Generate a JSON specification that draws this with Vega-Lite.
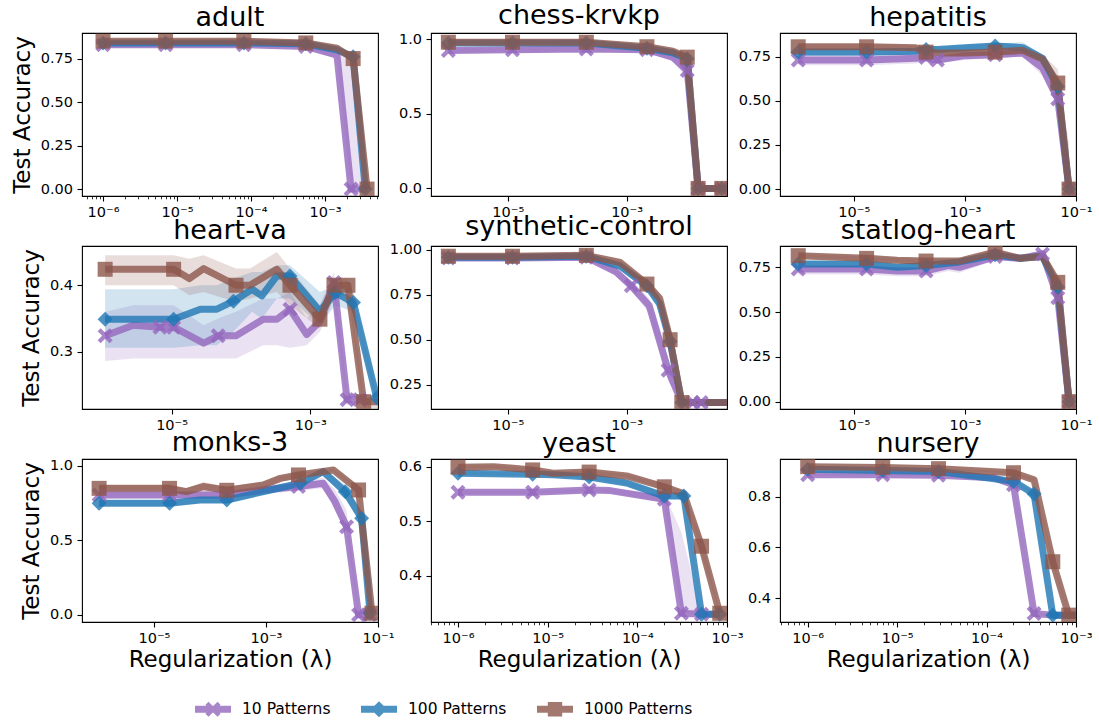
{
"$schema":"https://vega.github.io/schema/vega-lite/v6.json",
"autosize":{"type":"none"},
"padding":{"left":82,"top":33,"right":1017,"bottom":690},
"background":"white",
"config":{
 "view":{"stroke":"black","strokeWidth":1.1},
 "font":"DejaVu Sans",
 "axis":{"domain":false,"grid":false,"ticks":true,"tickColor":"black","tickWidth":1.1,"tickSize":5,"labelColor":"black","labelFont":"DejaVu Sans","labelFontSize":14.5,"labelPadding":4.5,"titleFont":"DejaVu Sans","titleFontSize":23,"titleFontWeight":"normal","titleColor":"black","labelFlush":false,"labelOverlap":false,"labelBound":false},
 "axisY":{"titlePadding":6},
 "axisX":{"titlePadding":3},
 "title":{"font":"DejaVu Sans","fontSize":27,"fontWeight":"normal","color":"black","frame":"group","baseline":"alphabetic","offset":1,"anchor":"middle"}
},
"datasets":{"d":[
{"d":"a","s":"10","x":1e-6,"y":0.83,"lo":0.82,"hi":0.84,"m":1},
{"d":"a","s":"10","x":7e-6,"y":0.83,"lo":0.82,"hi":0.84,"m":1},
{"d":"a","s":"10","x":8e-5,"y":0.83,"lo":0.82,"hi":0.84,"m":1},
{"d":"a","s":"10","x":5.5e-4,"y":0.82,"lo":0.81,"hi":0.83,"m":1},
{"d":"a","s":"10","x":1.45e-3,"y":0.77,"lo":0.75,"hi":0.79},
{"d":"a","s":"10","x":2.25e-3,"y":0,"lo":0,"hi":0.74,"m":1},
{"d":"a","s":"10","x":3.7e-3,"y":0,"lo":0,"hi":0.01},
{"d":"a","s":"100","x":1e-6,"y":0.84,"lo":0.835,"hi":0.845,"m":1},
{"d":"a","s":"100","x":7e-6,"y":0.84,"lo":0.835,"hi":0.845,"m":1},
{"d":"a","s":"100","x":8e-5,"y":0.84,"lo":0.835,"hi":0.845,"m":1},
{"d":"a","s":"100","x":5.5e-4,"y":0.835,"lo":0.83,"hi":0.84,"m":1},
{"d":"a","s":"100","x":1.45e-3,"y":0.8,"lo":0.79,"hi":0.81},
{"d":"a","s":"100","x":2.4e-3,"y":0.76,"lo":0.74,"hi":0.78,"m":1},
{"d":"a","s":"100","x":3.5e-3,"y":0,"lo":0,"hi":0.01,"m":1},
{"d":"a","s":"1000","x":1e-6,"y":0.85,"lo":0.845,"hi":0.855,"m":1},
{"d":"a","s":"1000","x":7e-6,"y":0.85,"lo":0.845,"hi":0.855,"m":1},
{"d":"a","s":"1000","x":8e-5,"y":0.85,"lo":0.845,"hi":0.855,"m":1},
{"d":"a","s":"1000","x":5.5e-4,"y":0.84,"lo":0.835,"hi":0.845,"m":1},
{"d":"a","s":"1000","x":1.45e-3,"y":0.81,"lo":0.8,"hi":0.82},
{"d":"a","s":"1000","x":2.4e-3,"y":0.75,"lo":0.74,"hi":0.76,"m":1},
{"d":"a","s":"1000","x":3.7e-3,"y":0,"lo":0,"hi":0.01,"m":1},

{"d":"c","s":"10","x":1e-6,"y":0.925,"lo":0.91,"hi":0.94,"m":1},
{"d":"c","s":"10","x":1.2e-5,"y":0.93,"lo":0.915,"hi":0.945,"m":1},
{"d":"c","s":"10","x":2.1e-4,"y":0.935,"lo":0.92,"hi":0.95,"m":1},
{"d":"c","s":"10","x":2.2e-3,"y":0.93,"lo":0.915,"hi":0.945,"m":1},
{"d":"c","s":"10","x":6e-3,"y":0.88,"lo":0.85,"hi":0.9},
{"d":"c","s":"10","x":1.05e-2,"y":0.79,"lo":0.74,"hi":0.84,"m":1},
{"d":"c","s":"10","x":1.6e-2,"y":0,"lo":0,"hi":0,"m":1},
{"d":"c","s":"10","x":0.04,"y":0,"lo":0,"hi":0,"m":1},
{"d":"c","s":"100","x":1e-6,"y":0.975,"lo":0.965,"hi":0.985,"m":1},
{"d":"c","s":"100","x":1.2e-5,"y":0.975,"lo":0.965,"hi":0.985,"m":1},
{"d":"c","s":"100","x":2.1e-4,"y":0.975,"lo":0.965,"hi":0.985,"m":1},
{"d":"c","s":"100","x":2.2e-3,"y":0.94,"lo":0.93,"hi":0.95,"m":1},
{"d":"c","s":"100","x":6e-3,"y":0.91,"lo":0.9,"hi":0.92},
{"d":"c","s":"100","x":1.05e-2,"y":0.87,"lo":0.85,"hi":0.89,"m":1},
{"d":"c","s":"100","x":1.6e-2,"y":0,"lo":0,"hi":0,"m":1},
{"d":"c","s":"100","x":0.04,"y":0,"lo":0,"hi":0,"m":1},
{"d":"c","s":"1000","x":1e-6,"y":0.98,"lo":0.975,"hi":0.985,"m":1},
{"d":"c","s":"1000","x":1.2e-5,"y":0.98,"lo":0.975,"hi":0.985,"m":1},
{"d":"c","s":"1000","x":2.1e-4,"y":0.98,"lo":0.975,"hi":0.985,"m":1},
{"d":"c","s":"1000","x":2.2e-3,"y":0.95,"lo":0.94,"hi":0.96,"m":1},
{"d":"c","s":"1000","x":6e-3,"y":0.92,"lo":0.91,"hi":0.93},
{"d":"c","s":"1000","x":1.05e-2,"y":0.88,"lo":0.87,"hi":0.89,"m":1},
{"d":"c","s":"1000","x":1.6e-2,"y":0,"lo":0,"hi":0,"m":1},
{"d":"c","s":"1000","x":0.04,"y":0,"lo":0,"hi":0,"m":1},

{"d":"h","s":"10","x":1e-6,"y":0.73,"lo":0.7,"hi":0.76,"m":1},
{"d":"h","s":"10","x":1.7e-5,"y":0.73,"lo":0.7,"hi":0.76,"m":1},
{"d":"h","s":"10","x":1.3e-4,"y":0.74,"lo":0.71,"hi":0.77},
{"d":"h","s":"10","x":2e-4,"y":0.745,"lo":0.72,"hi":0.77,"m":1},
{"d":"h","s":"10","x":3.2e-4,"y":0.73,"lo":0.71,"hi":0.76,"m":1},
{"d":"h","s":"10","x":1e-3,"y":0.755,"lo":0.73,"hi":0.78},
{"d":"h","s":"10","x":3.5e-3,"y":0.76,"lo":0.74,"hi":0.78,"m":1},
{"d":"h","s":"10","x":1.1e-2,"y":0.77,"lo":0.75,"hi":0.79},
{"d":"h","s":"10","x":2.5e-2,"y":0.685,"lo":0.64,"hi":0.72},
{"d":"h","s":"10","x":4.7e-2,"y":0.51,"lo":0.46,"hi":0.57,"m":1},
{"d":"h","s":"10","x":7.5e-2,"y":0,"lo":0,"hi":0.03,"m":1},
{"d":"h","s":"100","x":1e-6,"y":0.775,"lo":0.755,"hi":0.795,"m":1},
{"d":"h","s":"100","x":1.7e-5,"y":0.775,"lo":0.755,"hi":0.795,"m":1},
{"d":"h","s":"100","x":1.3e-4,"y":0.78,"lo":0.76,"hi":0.8},
{"d":"h","s":"100","x":2e-4,"y":0.79,"lo":0.77,"hi":0.81,"m":1},
{"d":"h","s":"100","x":3.2e-4,"y":0.79,"lo":0.775,"hi":0.805},
{"d":"h","s":"100","x":1e-3,"y":0.8,"lo":0.785,"hi":0.815},
{"d":"h","s":"100","x":3.5e-3,"y":0.81,"lo":0.79,"hi":0.825,"m":1},
{"d":"h","s":"100","x":1.1e-2,"y":0.8,"lo":0.78,"hi":0.83},
{"d":"h","s":"100","x":2.5e-2,"y":0.74,"lo":0.72,"hi":0.76},
{"d":"h","s":"100","x":4.7e-2,"y":0.58,"lo":0.54,"hi":0.62,"m":1},
{"d":"h","s":"100","x":7.5e-2,"y":0,"lo":0,"hi":0.05,"m":1},
{"d":"h","s":"1000","x":1e-6,"y":0.805,"lo":0.79,"hi":0.82,"m":1},
{"d":"h","s":"1000","x":1.7e-5,"y":0.805,"lo":0.79,"hi":0.82,"m":1},
{"d":"h","s":"1000","x":1.3e-4,"y":0.8,"lo":0.785,"hi":0.815},
{"d":"h","s":"1000","x":2e-4,"y":0.775,"lo":0.76,"hi":0.79,"m":1},
{"d":"h","s":"1000","x":3.2e-4,"y":0.77,"lo":0.755,"hi":0.785},
{"d":"h","s":"1000","x":1e-3,"y":0.77,"lo":0.755,"hi":0.785},
{"d":"h","s":"1000","x":3.5e-3,"y":0.775,"lo":0.76,"hi":0.79,"m":1},
{"d":"h","s":"1000","x":1.1e-2,"y":0.785,"lo":0.77,"hi":0.8},
{"d":"h","s":"1000","x":2.5e-2,"y":0.735,"lo":0.71,"hi":0.76},
{"d":"h","s":"1000","x":4.7e-2,"y":0.6,"lo":0.52,"hi":0.68,"m":1},
{"d":"h","s":"1000","x":7.5e-2,"y":0,"lo":0,"hi":0.25,"m":1},

{"d":"v","s":"10","x":1.1e-6,"y":0.324,"lo":0.286,"hi":0.36,"m":1},
{"d":"v","s":"10","x":2.8e-6,"y":0.34,"lo":0.29,"hi":0.37},
{"d":"v","s":"10","x":6.8e-6,"y":0.337,"lo":0.29,"hi":0.37,"m":1},
{"d":"v","s":"10","x":1.07e-5,"y":0.337,"lo":0.29,"hi":0.37,"m":1},
{"d":"v","s":"10","x":2.9e-5,"y":0.313,"lo":0.29,"hi":0.34},
{"d":"v","s":"10","x":4.7e-5,"y":0.324,"lo":0.29,"hi":0.35,"m":1},
{"d":"v","s":"10","x":8.5e-5,"y":0.324,"lo":0.29,"hi":0.36},
{"d":"v","s":"10","x":2.1e-4,"y":0.349,"lo":0.31,"hi":0.38},
{"d":"v","s":"10","x":3.3e-4,"y":0.349,"lo":0.31,"hi":0.38},
{"d":"v","s":"10","x":5.1e-4,"y":0.364,"lo":0.306,"hi":0.39,"m":1},
{"d":"v","s":"10","x":8.9e-4,"y":0.326,"lo":0.31,"hi":0.35},
{"d":"v","s":"10","x":1.38e-3,"y":0.346,"lo":0.33,"hi":0.37},
{"d":"v","s":"10","x":2.2e-3,"y":0.404,"lo":0.38,"hi":0.42,"m":1},
{"d":"v","s":"10","x":3.4e-3,"y":0.228,"lo":0.22,"hi":0.24,"m":1},
{"d":"v","s":"10","x":5.2e-3,"y":0.228,"lo":0.22,"hi":0.235,"m":1},
{"d":"v","s":"100","x":1.1e-6,"y":0.349,"lo":0.306,"hi":0.394,"m":1},
{"d":"v","s":"100","x":1.07e-5,"y":0.349,"lo":0.306,"hi":0.394,"m":1},
{"d":"v","s":"100","x":2.6e-5,"y":0.364,"lo":0.31,"hi":0.4},
{"d":"v","s":"100","x":4.5e-5,"y":0.364,"lo":0.31,"hi":0.4},
{"d":"v","s":"100","x":7.8e-5,"y":0.376,"lo":0.33,"hi":0.41,"m":1},
{"d":"v","s":"100","x":1.45e-4,"y":0.394,"lo":0.36,"hi":0.42},
{"d":"v","s":"100","x":2e-4,"y":0.384,"lo":0.35,"hi":0.42},
{"d":"v","s":"100","x":3.3e-4,"y":0.414,"lo":0.38,"hi":0.43},
{"d":"v","s":"100","x":5.1e-4,"y":0.414,"lo":0.38,"hi":0.43,"m":1},
{"d":"v","s":"100","x":1.38e-3,"y":0.361,"lo":0.34,"hi":0.39},
{"d":"v","s":"100","x":2.3e-3,"y":0.389,"lo":0.37,"hi":0.4,"m":1},
{"d":"v","s":"100","x":4.2e-3,"y":0.374,"lo":0.36,"hi":0.39,"m":1},
{"d":"v","s":"100","x":9.1e-3,"y":0.231,"lo":0.22,"hi":0.24,"m":1},
{"d":"v","s":"1000","x":1.1e-6,"y":0.424,"lo":0.4,"hi":0.445,"m":1},
{"d":"v","s":"1000","x":1.07e-5,"y":0.424,"lo":0.4,"hi":0.445,"m":1},
{"d":"v","s":"1000","x":1.8e-5,"y":0.41,"lo":0.385,"hi":0.44},
{"d":"v","s":"1000","x":2.9e-5,"y":0.425,"lo":0.39,"hi":0.445},
{"d":"v","s":"1000","x":8.5e-5,"y":0.4,"lo":0.375,"hi":0.425,"m":1},
{"d":"v","s":"1000","x":1.35e-4,"y":0.4,"lo":0.38,"hi":0.425},
{"d":"v","s":"1000","x":3.3e-4,"y":0.424,"lo":0.39,"hi":0.45},
{"d":"v","s":"1000","x":5.1e-4,"y":0.4,"lo":0.37,"hi":0.425,"m":1},
{"d":"v","s":"1000","x":1.38e-3,"y":0.349,"lo":0.335,"hi":0.37,"m":1},
{"d":"v","s":"1000","x":2.2e-3,"y":0.4,"lo":0.38,"hi":0.41,"m":1},
{"d":"v","s":"1000","x":3.5e-3,"y":0.4,"lo":0.385,"hi":0.41,"m":1},
{"d":"v","s":"1000","x":5.9e-3,"y":0.225,"lo":0.215,"hi":0.235,"m":1},
{"d":"v","s":"1000","x":9.5e-3,"y":0.225,"lo":0.215,"hi":0.235},

{"d":"s","s":"10","x":1e-6,"y":0.955,"lo":0.945,"hi":0.965,"m":1},
{"d":"s","s":"10","x":1.2e-5,"y":0.955,"lo":0.945,"hi":0.965,"m":1},
{"d":"s","s":"10","x":2.1e-4,"y":0.96,"lo":0.95,"hi":0.97,"m":1},
{"d":"s","s":"10","x":6.5e-4,"y":0.88,"lo":0.86,"hi":0.9},
{"d":"s","s":"10","x":1.2e-3,"y":0.8,"lo":0.77,"hi":0.83,"m":1},
{"d":"s","s":"10","x":2.4e-3,"y":0.69,"lo":0.65,"hi":0.73},
{"d":"s","s":"10","x":5e-3,"y":0.33,"lo":0.27,"hi":0.4,"m":1},
{"d":"s","s":"10","x":8.5e-3,"y":0.15,"lo":0.14,"hi":0.16},
{"d":"s","s":"10","x":1.3e-2,"y":0.15,"lo":0.14,"hi":0.16,"m":1},
{"d":"s","s":"10","x":1.8e-2,"y":0.15,"lo":0.14,"hi":0.16,"m":1},
{"d":"s","s":"10","x":0.049,"y":0.15,"lo":0.14,"hi":0.16},
{"d":"s","s":"100","x":1e-6,"y":0.96,"lo":0.955,"hi":0.965,"m":1},
{"d":"s","s":"100","x":1.2e-5,"y":0.96,"lo":0.955,"hi":0.965,"m":1},
{"d":"s","s":"100","x":2.1e-4,"y":0.965,"lo":0.955,"hi":0.975,"m":1},
{"d":"s","s":"100","x":7.8e-4,"y":0.91,"lo":0.89,"hi":0.93},
{"d":"s","s":"100","x":2.2e-3,"y":0.8,"lo":0.77,"hi":0.83,"m":1},
{"d":"s","s":"100","x":3.6e-3,"y":0.7,"lo":0.66,"hi":0.74},
{"d":"s","s":"100","x":5.4e-3,"y":0.49,"lo":0.45,"hi":0.53,"m":1},
{"d":"s","s":"100","x":8.5e-3,"y":0.15,"lo":0.14,"hi":0.16,"m":1},
{"d":"s","s":"100","x":0.049,"y":0.15,"lo":0.14,"hi":0.16},
{"d":"s","s":"1000","x":1e-6,"y":0.965,"lo":0.96,"hi":0.97,"m":1},
{"d":"s","s":"1000","x":1.2e-5,"y":0.965,"lo":0.96,"hi":0.97,"m":1},
{"d":"s","s":"1000","x":2.1e-4,"y":0.97,"lo":0.96,"hi":0.98,"m":1},
{"d":"s","s":"1000","x":7.8e-4,"y":0.93,"lo":0.92,"hi":0.94},
{"d":"s","s":"1000","x":2.2e-3,"y":0.81,"lo":0.79,"hi":0.83,"m":1},
{"d":"s","s":"1000","x":3.6e-3,"y":0.73,"lo":0.71,"hi":0.75},
{"d":"s","s":"1000","x":5.4e-3,"y":0.5,"lo":0.47,"hi":0.53,"m":1},
{"d":"s","s":"1000","x":8.5e-3,"y":0.15,"lo":0.14,"hi":0.16,"m":1},
{"d":"s","s":"1000","x":0.049,"y":0.15,"lo":0.14,"hi":0.16},

{"d":"t","s":"10","x":1e-6,"y":0.74,"lo":0.71,"hi":0.76,"m":1},
{"d":"t","s":"10","x":1.7e-5,"y":0.74,"lo":0.71,"hi":0.76,"m":1},
{"d":"t","s":"10","x":6e-5,"y":0.73,"lo":0.7,"hi":0.75},
{"d":"t","s":"10","x":2e-4,"y":0.73,"lo":0.7,"hi":0.755,"m":1},
{"d":"t","s":"10","x":5e-4,"y":0.76,"lo":0.73,"hi":0.78},
{"d":"t","s":"10","x":8e-4,"y":0.75,"lo":0.72,"hi":0.77},
{"d":"t","s":"10","x":3.5e-3,"y":0.81,"lo":0.79,"hi":0.83,"m":1},
{"d":"t","s":"10","x":1e-2,"y":0.8,"lo":0.79,"hi":0.81},
{"d":"t","s":"10","x":2.5e-2,"y":0.825,"lo":0.81,"hi":0.84,"m":1},
{"d":"t","s":"10","x":4.7e-2,"y":0.58,"lo":0.53,"hi":0.63,"m":1},
{"d":"t","s":"10","x":7.5e-2,"y":0,"lo":0,"hi":0.01,"m":1},
{"d":"t","s":"100","x":1e-6,"y":0.768,"lo":0.75,"hi":0.785,"m":1},
{"d":"t","s":"100","x":1.7e-5,"y":0.768,"lo":0.75,"hi":0.785,"m":1},
{"d":"t","s":"100","x":6e-5,"y":0.75,"lo":0.735,"hi":0.77},
{"d":"t","s":"100","x":2e-4,"y":0.76,"lo":0.745,"hi":0.775,"m":1},
{"d":"t","s":"100","x":8e-4,"y":0.78,"lo":0.765,"hi":0.795},
{"d":"t","s":"100","x":3.5e-3,"y":0.82,"lo":0.805,"hi":0.835,"m":1},
{"d":"t","s":"100","x":1e-2,"y":0.8,"lo":0.79,"hi":0.81},
{"d":"t","s":"100","x":2.5e-2,"y":0.81,"lo":0.8,"hi":0.82},
{"d":"t","s":"100","x":4.7e-2,"y":0.64,"lo":0.6,"hi":0.68,"m":1},
{"d":"t","s":"100","x":7.5e-2,"y":0,"lo":0,"hi":0.01,"m":1},
{"d":"t","s":"1000","x":1e-6,"y":0.815,"lo":0.805,"hi":0.825,"m":1},
{"d":"t","s":"1000","x":1.7e-5,"y":0.8,"lo":0.79,"hi":0.81,"m":1},
{"d":"t","s":"1000","x":6e-5,"y":0.79,"lo":0.78,"hi":0.8},
{"d":"t","s":"1000","x":2e-4,"y":0.785,"lo":0.775,"hi":0.795,"m":1},
{"d":"t","s":"1000","x":8e-4,"y":0.785,"lo":0.775,"hi":0.795},
{"d":"t","s":"1000","x":3.5e-3,"y":0.835,"lo":0.82,"hi":0.85,"m":1},
{"d":"t","s":"1000","x":1e-2,"y":0.8,"lo":0.79,"hi":0.81},
{"d":"t","s":"1000","x":2.5e-2,"y":0.81,"lo":0.8,"hi":0.82},
{"d":"t","s":"1000","x":4.7e-2,"y":0.666,"lo":0.64,"hi":0.69,"m":1},
{"d":"t","s":"1000","x":7.5e-2,"y":0,"lo":0,"hi":0.01,"m":1},

{"d":"m","s":"10","x":1.05e-6,"y":0.804,"lo":0.78,"hi":0.83,"m":1},
{"d":"m","s":"10","x":1.9e-5,"y":0.804,"lo":0.78,"hi":0.83,"m":1},
{"d":"m","s":"10","x":2e-4,"y":0.804,"lo":0.78,"hi":0.83,"m":1},
{"d":"m","s":"10","x":1e-3,"y":0.84,"lo":0.81,"hi":0.87},
{"d":"m","s":"10","x":1.8e-3,"y":0.848,"lo":0.82,"hi":0.88},
{"d":"m","s":"10","x":3.8e-3,"y":0.86,"lo":0.83,"hi":0.89,"m":1},
{"d":"m","s":"10","x":1.05e-2,"y":0.882,"lo":0.85,"hi":0.92},
{"d":"m","s":"10","x":1.7e-2,"y":0.76,"lo":0.7,"hi":0.84},
{"d":"m","s":"10","x":2.75e-2,"y":0.59,"lo":0.55,"hi":0.7,"m":1},
{"d":"m","s":"10","x":4.5e-2,"y":0,"lo":0,"hi":0.02,"m":1},
{"d":"m","s":"10","x":7.1e-2,"y":0,"lo":0,"hi":0.01,"m":1},
{"d":"m","s":"100","x":1.05e-6,"y":0.748,"lo":0.73,"hi":0.77,"m":1},
{"d":"m","s":"100","x":1.9e-5,"y":0.748,"lo":0.73,"hi":0.77,"m":1},
{"d":"m","s":"100","x":6.6e-5,"y":0.77,"lo":0.75,"hi":0.79},
{"d":"m","s":"100","x":2e-4,"y":0.77,"lo":0.75,"hi":0.79,"m":1},
{"d":"m","s":"100","x":1e-3,"y":0.83,"lo":0.81,"hi":0.85},
{"d":"m","s":"100","x":4.1e-3,"y":0.882,"lo":0.86,"hi":0.9,"m":1},
{"d":"m","s":"100","x":1.05e-2,"y":0.96,"lo":0.94,"hi":0.98},
{"d":"m","s":"100","x":2.6e-2,"y":0.826,"lo":0.78,"hi":0.87,"m":1},
{"d":"m","s":"100","x":5.1e-2,"y":0.648,"lo":0.6,"hi":0.7,"m":1},
{"d":"m","s":"100","x":7.2e-2,"y":0.01,"lo":0,"hi":0.02,"m":1},
{"d":"m","s":"1000","x":1.05e-6,"y":0.848,"lo":0.82,"hi":0.87,"m":1},
{"d":"m","s":"1000","x":1.9e-5,"y":0.848,"lo":0.82,"hi":0.87,"m":1},
{"d":"m","s":"1000","x":3.8e-5,"y":0.826,"lo":0.8,"hi":0.85},
{"d":"m","s":"1000","x":7.6e-5,"y":0.86,"lo":0.83,"hi":0.89},
{"d":"m","s":"1000","x":2e-4,"y":0.835,"lo":0.81,"hi":0.86,"m":1},
{"d":"m","s":"1000","x":8.9e-4,"y":0.87,"lo":0.85,"hi":0.89},
{"d":"m","s":"1000","x":1.8e-3,"y":0.915,"lo":0.89,"hi":0.93},
{"d":"m","s":"1000","x":3.8e-3,"y":0.938,"lo":0.92,"hi":0.95,"m":1},
{"d":"m","s":"1000","x":1.6e-2,"y":0.971,"lo":0.96,"hi":0.98},
{"d":"m","s":"1000","x":4.5e-2,"y":0.837,"lo":0.82,"hi":0.86,"m":1},
{"d":"m","s":"1000","x":7.8e-2,"y":0.01,"lo":0,"hi":0.02,"m":1},

{"d":"y","s":"10","x":1e-6,"y":0.553,"lo":0.55,"hi":0.556,"m":1},
{"d":"y","s":"10","x":6.8e-6,"y":0.553,"lo":0.55,"hi":0.556,"m":1},
{"d":"y","s":"10","x":2.9e-5,"y":0.557,"lo":0.554,"hi":0.56,"m":1},
{"d":"y","s":"10","x":5e-5,"y":0.556,"lo":0.552,"hi":0.56},
{"d":"y","s":"10","x":2e-4,"y":0.54,"lo":0.535,"hi":0.55,"m":1},
{"d":"y","s":"10","x":3.1e-4,"y":0.331,"lo":0.33,"hi":0.48,"m":1},
{"d":"y","s":"10","x":5.2e-4,"y":0.329,"lo":0.328,"hi":0.33,"m":1},
{"d":"y","s":"10","x":8.3e-4,"y":0.329,"lo":0.328,"hi":0.33},
{"d":"y","s":"100","x":1e-6,"y":0.588,"lo":0.585,"hi":0.591,"m":1},
{"d":"y","s":"100","x":6.8e-6,"y":0.586,"lo":0.583,"hi":0.589,"m":1},
{"d":"y","s":"100","x":1.15e-5,"y":0.585,"lo":0.582,"hi":0.588},
{"d":"y","s":"100","x":2.9e-5,"y":0.581,"lo":0.578,"hi":0.584,"m":1},
{"d":"y","s":"100","x":7.6e-5,"y":0.57,"lo":0.566,"hi":0.574},
{"d":"y","s":"100","x":2e-4,"y":0.546,"lo":0.54,"hi":0.552,"m":1},
{"d":"y","s":"100","x":3.3e-4,"y":0.546,"lo":0.54,"hi":0.552,"m":1},
{"d":"y","s":"100","x":5.2e-4,"y":0.329,"lo":0.328,"hi":0.33,"m":1},
{"d":"y","s":"100","x":8.3e-4,"y":0.329,"lo":0.328,"hi":0.33,"m":1},
{"d":"y","s":"1000","x":1e-6,"y":0.599,"lo":0.596,"hi":0.602,"m":1},
{"d":"y","s":"1000","x":2.5e-6,"y":0.6,"lo":0.597,"hi":0.603},
{"d":"y","s":"1000","x":6.8e-6,"y":0.594,"lo":0.591,"hi":0.597,"m":1},
{"d":"y","s":"1000","x":1.15e-5,"y":0.588,"lo":0.585,"hi":0.591},
{"d":"y","s":"1000","x":2.9e-5,"y":0.59,"lo":0.587,"hi":0.593,"m":1},
{"d":"y","s":"1000","x":7.6e-5,"y":0.583,"lo":0.58,"hi":0.586},
{"d":"y","s":"1000","x":2e-4,"y":0.563,"lo":0.558,"hi":0.568,"m":1},
{"d":"y","s":"1000","x":3.3e-4,"y":0.55,"lo":0.545,"hi":0.555},
{"d":"y","s":"1000","x":5.2e-4,"y":0.454,"lo":0.44,"hi":0.47,"m":1},
{"d":"y","s":"1000","x":8.3e-4,"y":0.331,"lo":0.33,"hi":0.333,"m":1},

{"d":"n","s":"10","x":1e-6,"y":0.886,"lo":0.883,"hi":0.889,"m":1},
{"d":"n","s":"10","x":6.9e-6,"y":0.886,"lo":0.883,"hi":0.889,"m":1},
{"d":"n","s":"10","x":2.9e-5,"y":0.884,"lo":0.881,"hi":0.887,"m":1},
{"d":"n","s":"10","x":1.2e-4,"y":0.874,"lo":0.87,"hi":0.878},
{"d":"n","s":"10","x":2e-4,"y":0.847,"lo":0.84,"hi":0.855,"m":1},
{"d":"n","s":"10","x":3.4e-4,"y":0.34,"lo":0.335,"hi":0.345,"m":1},
{"d":"n","s":"10","x":5.5e-4,"y":0.334,"lo":0.333,"hi":0.335},
{"d":"n","s":"10","x":8.3e-4,"y":0.334,"lo":0.333,"hi":0.335},
{"d":"n","s":"10","x":1e-3,"y":0.334,"lo":0.333,"hi":0.335},
{"d":"n","s":"100","x":1e-6,"y":0.908,"lo":0.905,"hi":0.911,"m":1},
{"d":"n","s":"100","x":6.9e-6,"y":0.903,"lo":0.9,"hi":0.906,"m":1},
{"d":"n","s":"100","x":2.9e-5,"y":0.899,"lo":0.896,"hi":0.902,"m":1},
{"d":"n","s":"100","x":2e-4,"y":0.86,"lo":0.855,"hi":0.865,"m":1},
{"d":"n","s":"100","x":3.4e-4,"y":0.81,"lo":0.8,"hi":0.82,"m":1},
{"d":"n","s":"100","x":5.5e-4,"y":0.334,"lo":0.333,"hi":0.335,"m":1},
{"d":"n","s":"100","x":8.3e-4,"y":0.334,"lo":0.333,"hi":0.335},
{"d":"n","s":"100","x":1e-3,"y":0.334,"lo":0.333,"hi":0.335},
{"d":"n","s":"1000","x":1e-6,"y":0.918,"lo":0.915,"hi":0.921,"m":1},
{"d":"n","s":"1000","x":6.9e-6,"y":0.915,"lo":0.912,"hi":0.918,"m":1},
{"d":"n","s":"1000","x":2.9e-5,"y":0.91,"lo":0.907,"hi":0.913,"m":1},
{"d":"n","s":"1000","x":2e-4,"y":0.894,"lo":0.89,"hi":0.898,"m":1},
{"d":"n","s":"1000","x":3.4e-4,"y":0.866,"lo":0.86,"hi":0.872},
{"d":"n","s":"1000","x":5.5e-4,"y":0.544,"lo":0.53,"hi":0.56,"m":1},
{"d":"n","s":"1000","x":8.3e-4,"y":0.334,"lo":0.333,"hi":0.335,"m":1},
{"d":"n","s":"1000","x":1e-3,"y":0.334,"lo":0.333,"hi":0.335}
]},
"columns":3,
"spacing":{"row":50,"column":53},
"bounds":"flush",
"resolve":{"scale":{"shape":"independent"},"legend":{"shape":"independent","color":"independent","fill":"independent"}},
"concat":[
{"title":"adult","width":296,"height":163,"data":{"name":"d"},"transform":[{"filter":"datum.d==='a'"}],
 "encoding":{
  "x":{"field":"x","type":"quantitative","title":null,"scale":{"type":"log","domain":[5.2e-7,5.2e-3],"nice":false},"axis":{"values":[6e-7,7e-7,8e-7,9e-7,1e-6,2e-6,3e-6,4e-6,5e-6,6e-6,7e-6,8e-6,9e-6,1e-5,2e-5,3e-5,4e-5,5e-5,6e-5,7e-5,8e-5,9e-5,1e-4,2e-4,3e-4,4e-4,5e-4,6e-4,7e-4,8e-4,9e-4,1e-3,2e-3,3e-3,4e-3,5e-3],
    "labelExpr":"abs(log(datum.value)/LN10 - round(log(datum.value)/LN10)) < 0.001 ? '10' + ['⁰','⁻¹','⁻²','⁻³','⁻⁴','⁻⁵','⁻⁶','⁻⁷'][round(-log(datum.value)/LN10)] : ''",
    "tickSize":{"condition":{"test":"abs(log(datum.value)/LN10 - round(log(datum.value)/LN10)) < 0.001","value":5},"value":2.8},
    "tickWidth":{"condition":{"test":"abs(log(datum.value)/LN10 - round(log(datum.value)/LN10)) < 0.001","value":1.1},"value":0.8}}},
  "y":{"field":"y","type":"quantitative","title":"Test Accuracy","scale":{"domain":[-0.04,0.897],"nice":false,"zero":false},"axis":{"values":[0,0.25,0.5,0.75],"format":".2f"}},
  "color":{"field":"s","type":"nominal","legend":null,"scale":{"domain":["10","100","1000"],"range":["#9467bd","#1f77b4","#8c564b"]}}
 },
 "layer":[
  {"mark":{"type":"area","opacity":0.2,"clip":true},"encoding":{"y":{"field":"lo","type":"quantitative","title":"Test Accuracy","scale":{"domain":[-0.04,0.897],"nice":false,"zero":false},"axis":{"values":[0,0.25,0.5,0.75],"format":".2f"}},"y2":{"field":"hi"}}},
  {"mark":{"type":"line","strokeWidth":7,"opacity":0.8,"clip":true,"strokeJoin":"round"},"encoding":{}},
  {"transform":[{"filter":"datum.m==1"}],"mark":{"type":"point","filled":true,"size":225,"opacity":0.8,"clip":true},"encoding":{"shape":{"field":"s","type":"nominal","legend":null,"scale":{"domain":["10","100","1000"],"range":["M-1,-0.6L-0.6,-1L0,-0.4L0.6,-1L1,-0.6L0.4,0L1,0.6L0.6,1L0,0.4L-0.6,1L-1,0.6L-0.4,0Z","diamond","square"]}}}}
 ]},
{"title":"chess-krvkp","width":296,"height":163,"data":{"name":"d"},"transform":[{"filter":"datum.d==='c'"}],
 "encoding":{
  "x":{"field":"x","type":"quantitative","title":null,"scale":{"type":"log","domain":[5.1e-7,0.049],"nice":false},"axis":{"values":[1e-5,1e-3],"labelExpr":"'10' + ['⁰','⁻¹','⁻²','⁻³','⁻⁴','⁻⁵','⁻⁶','⁻⁷'][round(-log(datum.value)/LN10)]"}},
  "y":{"field":"y","type":"quantitative","title":null,"scale":{"domain":[-0.051,1.042],"nice":false,"zero":false},"axis":{"values":[0,0.5,1],"format":".1f"}},
  "color":{"field":"s","type":"nominal","legend":null,"scale":{"domain":["10","100","1000"],"range":["#9467bd","#1f77b4","#8c564b"]}}
 },
 "layer":[
  {"mark":{"type":"area","opacity":0.2,"clip":true},"encoding":{"y":{"field":"lo","type":"quantitative","title":null,"scale":{"domain":[-0.051,1.042],"nice":false,"zero":false},"axis":{"values":[0,0.5,1],"format":".1f"}},"y2":{"field":"hi"}}},
  {"mark":{"type":"line","strokeWidth":7,"opacity":0.8,"clip":true,"strokeJoin":"round"},"encoding":{}},
  {"transform":[{"filter":"datum.m==1"}],"mark":{"type":"point","filled":true,"size":225,"opacity":0.8,"clip":true},"encoding":{"shape":{"field":"s","type":"nominal","legend":null,"scale":{"domain":["10","100","1000"],"range":["M-1,-0.6L-0.6,-1L0,-0.4L0.6,-1L1,-0.6L0.4,0L1,0.6L0.6,1L0,0.4L-0.6,1L-1,0.6L-0.4,0Z","diamond","square"]}}}}
 ]},
{"title":"hepatitis","width":296,"height":163,"data":{"name":"d"},"transform":[{"filter":"datum.d==='h'"}],
 "encoding":{
  "x":{"field":"x","type":"quantitative","title":null,"scale":{"type":"log","domain":[4.7e-7,0.1],"nice":false},"axis":{"values":[1e-5,1e-3,1e-1],"labelExpr":"'10' + ['⁰','⁻¹','⁻²','⁻³','⁻⁴','⁻⁵','⁻⁶','⁻⁷'][round(-log(datum.value)/LN10)]"}},
  "y":{"field":"y","type":"quantitative","title":null,"scale":{"domain":[-0.039,0.883],"nice":false,"zero":false},"axis":{"values":[0,0.25,0.5,0.75],"format":".2f"}},
  "color":{"field":"s","type":"nominal","legend":null,"scale":{"domain":["10","100","1000"],"range":["#9467bd","#1f77b4","#8c564b"]}}
 },
 "layer":[
  {"mark":{"type":"area","opacity":0.2,"clip":true},"encoding":{"y":{"field":"lo","type":"quantitative","title":null,"scale":{"domain":[-0.039,0.883],"nice":false,"zero":false},"axis":{"values":[0,0.25,0.5,0.75],"format":".2f"}},"y2":{"field":"hi"}}},
  {"mark":{"type":"line","strokeWidth":7,"opacity":0.8,"clip":true,"strokeJoin":"round"},"encoding":{}},
  {"transform":[{"filter":"datum.m==1"}],"mark":{"type":"point","filled":true,"size":225,"opacity":0.8,"clip":true},"encoding":{"shape":{"field":"s","type":"nominal","legend":null,"scale":{"domain":["10","100","1000"],"range":["M-1,-0.6L-0.6,-1L0,-0.4L0.6,-1L1,-0.6L0.4,0L1,0.6L0.6,1L0,0.4L-0.6,1L-1,0.6L-0.4,0Z","diamond","square"]}}}}
 ]},
{"title":"heart-va","width":296,"height":163,"data":{"name":"d"},"transform":[{"filter":"datum.d==='v'"}],
 "encoding":{
  "x":{"field":"x","type":"quantitative","title":null,"scale":{"type":"log","domain":[5.1e-7,9.5e-3],"nice":false},"axis":{"values":[1e-5,1e-3],"labelExpr":"'10' + ['⁰','⁻¹','⁻²','⁻³','⁻⁴','⁻⁵','⁻⁶','⁻⁷'][round(-log(datum.value)/LN10)]"}},
  "y":{"field":"y","type":"quantitative","title":"Test Accuracy","scale":{"domain":[0.214,0.459],"nice":false,"zero":false},"axis":{"values":[0.3,0.4],"format":".1f"}},
  "color":{"field":"s","type":"nominal","legend":null,"scale":{"domain":["10","100","1000"],"range":["#9467bd","#1f77b4","#8c564b"]}}
 },
 "layer":[
  {"mark":{"type":"area","opacity":0.2,"clip":true},"encoding":{"y":{"field":"lo","type":"quantitative","title":"Test Accuracy","scale":{"domain":[0.214,0.459],"nice":false,"zero":false},"axis":{"values":[0.3,0.4],"format":".1f"}},"y2":{"field":"hi"}}},
  {"mark":{"type":"line","strokeWidth":7,"opacity":0.8,"clip":true,"strokeJoin":"round"},"encoding":{}},
  {"transform":[{"filter":"datum.m==1"}],"mark":{"type":"point","filled":true,"size":225,"opacity":0.8,"clip":true},"encoding":{"shape":{"field":"s","type":"nominal","legend":null,"scale":{"domain":["10","100","1000"],"range":["M-1,-0.6L-0.6,-1L0,-0.4L0.6,-1L1,-0.6L0.4,0L1,0.6L0.6,1L0,0.4L-0.6,1L-1,0.6L-0.4,0Z","diamond","square"]}}}}
 ]},
{"title":"synthetic-control","width":296,"height":163,"data":{"name":"d"},"transform":[{"filter":"datum.d==='s'"}],
 "encoding":{
  "x":{"field":"x","type":"quantitative","title":null,"scale":{"type":"log","domain":[5.1e-7,0.049],"nice":false},"axis":{"values":[1e-5,1e-3],"labelExpr":"'10' + ['⁰','⁻¹','⁻²','⁻³','⁻⁴','⁻⁵','⁻⁶','⁻⁷'][round(-log(datum.value)/LN10)]"}},
  "y":{"field":"y","type":"quantitative","title":null,"scale":{"domain":[0.114,1.022],"nice":false,"zero":false},"axis":{"values":[0.25,0.5,0.75,1],"format":".2f"}},
  "color":{"field":"s","type":"nominal","legend":null,"scale":{"domain":["10","100","1000"],"range":["#9467bd","#1f77b4","#8c564b"]}}
 },
 "layer":[
  {"mark":{"type":"area","opacity":0.2,"clip":true},"encoding":{"y":{"field":"lo","type":"quantitative","title":null,"scale":{"domain":[0.114,1.022],"nice":false,"zero":false},"axis":{"values":[0.25,0.5,0.75,1],"format":".2f"}},"y2":{"field":"hi"}}},
  {"mark":{"type":"line","strokeWidth":7,"opacity":0.8,"clip":true,"strokeJoin":"round"},"encoding":{}},
  {"transform":[{"filter":"datum.m==1"}],"mark":{"type":"point","filled":true,"size":225,"opacity":0.8,"clip":true},"encoding":{"shape":{"field":"s","type":"nominal","legend":null,"scale":{"domain":["10","100","1000"],"range":["M-1,-0.6L-0.6,-1L0,-0.4L0.6,-1L1,-0.6L0.4,0L1,0.6L0.6,1L0,0.4L-0.6,1L-1,0.6L-0.4,0Z","diamond","square"]}}}}
 ]},
{"title":"statlog-heart","width":296,"height":163,"data":{"name":"d"},"transform":[{"filter":"datum.d==='t'"}],
 "encoding":{
  "x":{"field":"x","type":"quantitative","title":null,"scale":{"type":"log","domain":[4.7e-7,0.1],"nice":false},"axis":{"values":[1e-5,1e-3,1e-1],"labelExpr":"'10' + ['⁰','⁻¹','⁻²','⁻³','⁻⁴','⁻⁵','⁻⁶','⁻⁷'][round(-log(datum.value)/LN10)]"}},
  "y":{"field":"y","type":"quantitative","title":null,"scale":{"domain":[-0.041,0.869],"nice":false,"zero":false},"axis":{"values":[0,0.25,0.5,0.75],"format":".2f"}},
  "color":{"field":"s","type":"nominal","legend":null,"scale":{"domain":["10","100","1000"],"range":["#9467bd","#1f77b4","#8c564b"]}}
 },
 "layer":[
  {"mark":{"type":"area","opacity":0.2,"clip":true},"encoding":{"y":{"field":"lo","type":"quantitative","title":null,"scale":{"domain":[-0.041,0.869],"nice":false,"zero":false},"axis":{"values":[0,0.25,0.5,0.75],"format":".2f"}},"y2":{"field":"hi"}}},
  {"mark":{"type":"line","strokeWidth":7,"opacity":0.8,"clip":true,"strokeJoin":"round"},"encoding":{}},
  {"transform":[{"filter":"datum.m==1"}],"mark":{"type":"point","filled":true,"size":225,"opacity":0.8,"clip":true},"encoding":{"shape":{"field":"s","type":"nominal","legend":null,"scale":{"domain":["10","100","1000"],"range":["M-1,-0.6L-0.6,-1L0,-0.4L0.6,-1L1,-0.6L0.4,0L1,0.6L0.6,1L0,0.4L-0.6,1L-1,0.6L-0.4,0Z","diamond","square"]}}}}
 ]},
{"title":"monks-3","width":296,"height":163,"data":{"name":"d"},"transform":[{"filter":"datum.d==='m'"}],
 "encoding":{
  "x":{"field":"x","type":"quantitative","title":"Regularization (λ)","scale":{"type":"log","domain":[5.2e-7,0.1],"nice":false},"axis":{"values":[1e-5,1e-3,1e-1],"labelExpr":"'10' + ['⁰','⁻¹','⁻²','⁻³','⁻⁴','⁻⁵','⁻⁶','⁻⁷'][round(-log(datum.value)/LN10)]"}},
  "y":{"field":"y","type":"quantitative","title":"Test Accuracy","scale":{"domain":[-0.049,1.045],"nice":false,"zero":false},"axis":{"values":[0,0.5,1],"format":".1f"}},
  "color":{"field":"s","type":"nominal","legend":null,"scale":{"domain":["10","100","1000"],"range":["#9467bd","#1f77b4","#8c564b"]}}
 },
 "layer":[
  {"mark":{"type":"area","opacity":0.2,"clip":true},"encoding":{"y":{"field":"lo","type":"quantitative","title":"Test Accuracy","scale":{"domain":[-0.049,1.045],"nice":false,"zero":false},"axis":{"values":[0,0.5,1],"format":".1f"}},"y2":{"field":"hi"}}},
  {"mark":{"type":"line","strokeWidth":7,"opacity":0.8,"clip":true,"strokeJoin":"round"},"encoding":{}},
  {"transform":[{"filter":"datum.m==1"}],"mark":{"type":"point","filled":true,"size":225,"opacity":0.8,"clip":true},"encoding":{"shape":{"field":"s","type":"nominal","legend":null,"scale":{"domain":["10","100","1000"],"range":["M-1,-0.6L-0.6,-1L0,-0.4L0.6,-1L1,-0.6L0.4,0L1,0.6L0.6,1L0,0.4L-0.6,1L-1,0.6L-0.4,0Z","diamond","square"]}}}}
 ]},
{"title":"yeast","width":296,"height":163,"data":{"name":"d"},"transform":[{"filter":"datum.d==='y'"}],
 "encoding":{
  "x":{"field":"x","type":"quantitative","title":"Regularization (λ)","scale":{"type":"log","domain":[5e-7,1e-3],"nice":false},"axis":{"values":[5e-7,6e-7,7e-7,8e-7,9e-7,1e-6,2e-6,3e-6,4e-6,5e-6,6e-6,7e-6,8e-6,9e-6,1e-5,2e-5,3e-5,4e-5,5e-5,6e-5,7e-5,8e-5,9e-5,1e-4,2e-4,3e-4,4e-4,5e-4,6e-4,7e-4,8e-4,9e-4,1e-3],
    "labelExpr":"abs(log(datum.value)/LN10 - round(log(datum.value)/LN10)) < 0.001 ? '10' + ['⁰','⁻¹','⁻²','⁻³','⁻⁴','⁻⁵','⁻⁶','⁻⁷'][round(-log(datum.value)/LN10)] : ''",
    "tickSize":{"condition":{"test":"abs(log(datum.value)/LN10 - round(log(datum.value)/LN10)) < 0.001","value":5},"value":2.8},
    "tickWidth":{"condition":{"test":"abs(log(datum.value)/LN10 - round(log(datum.value)/LN10)) < 0.001","value":1.1},"value":0.8}}},
  "y":{"field":"y","type":"quantitative","title":null,"scale":{"domain":[0.315,0.614],"nice":false,"zero":false},"axis":{"values":[0.4,0.5,0.6],"format":".1f"}},
  "color":{"field":"s","type":"nominal","legend":null,"scale":{"domain":["10","100","1000"],"range":["#9467bd","#1f77b4","#8c564b"]}}
 },
 "layer":[
  {"mark":{"type":"area","opacity":0.2,"clip":true},"encoding":{"y":{"field":"lo","type":"quantitative","title":null,"scale":{"domain":[0.315,0.614],"nice":false,"zero":false},"axis":{"values":[0.4,0.5,0.6],"format":".1f"}},"y2":{"field":"hi"}}},
  {"mark":{"type":"line","strokeWidth":7,"opacity":0.8,"clip":true,"strokeJoin":"round"},"encoding":{}},
  {"transform":[{"filter":"datum.m==1"}],"mark":{"type":"point","filled":true,"size":225,"opacity":0.8,"clip":true},"encoding":{"shape":{"field":"s","type":"nominal","legend":null,"scale":{"domain":["10","100","1000"],"range":["M-1,-0.6L-0.6,-1L0,-0.4L0.6,-1L1,-0.6L0.4,0L1,0.6L0.6,1L0,0.4L-0.6,1L-1,0.6L-0.4,0Z","diamond","square"]}}}}
 ]},
{"title":"nursery","width":296,"height":163,"data":{"name":"d"},"transform":[{"filter":"datum.d==='n'"}],
 "encoding":{
  "x":{"field":"x","type":"quantitative","title":"Regularization (λ)","scale":{"type":"log","domain":[4.9e-7,1e-3],"nice":false},"axis":{"values":[5e-7,6e-7,7e-7,8e-7,9e-7,1e-6,2e-6,3e-6,4e-6,5e-6,6e-6,7e-6,8e-6,9e-6,1e-5,2e-5,3e-5,4e-5,5e-5,6e-5,7e-5,8e-5,9e-5,1e-4,2e-4,3e-4,4e-4,5e-4,6e-4,7e-4,8e-4,9e-4,1e-3],
    "labelExpr":"abs(log(datum.value)/LN10 - round(log(datum.value)/LN10)) < 0.001 ? '10' + ['⁰','⁻¹','⁻²','⁻³','⁻⁴','⁻⁵','⁻⁶','⁻⁷'][round(-log(datum.value)/LN10)] : ''",
    "tickSize":{"condition":{"test":"abs(log(datum.value)/LN10 - round(log(datum.value)/LN10)) < 0.001","value":5},"value":2.8},
    "tickWidth":{"condition":{"test":"abs(log(datum.value)/LN10 - round(log(datum.value)/LN10)) < 0.001","value":1.1},"value":0.8}}},
  "y":{"field":"y","type":"quantitative","title":null,"scale":{"domain":[0.307,0.948],"nice":false,"zero":false},"axis":{"values":[0.4,0.6,0.8],"format":".1f"}},
  "color":{"field":"s","type":"nominal","legend":null,"scale":{"domain":["10","100","1000"],"range":["#9467bd","#1f77b4","#8c564b"]}}
 },
 "layer":[
  {"mark":{"type":"area","opacity":0.2,"clip":true},"encoding":{"y":{"field":"lo","type":"quantitative","title":null,"scale":{"domain":[0.307,0.948],"nice":false,"zero":false},"axis":{"values":[0.4,0.6,0.8],"format":".1f"}},"y2":{"field":"hi"}}},
  {"mark":{"type":"line","strokeWidth":7,"opacity":0.8,"clip":true,"strokeJoin":"round"},"encoding":{}},
  {"transform":[{"filter":"datum.m==1"}],"mark":{"type":"point","filled":true,"size":225,"opacity":0.8,"clip":true},"encoding":{"shape":{"field":"s","type":"nominal","legend":null,"scale":{"domain":["10","100","1000"],"range":["M-1,-0.6L-0.6,-1L0,-0.4L0.6,-1L1,-0.6L0.4,0L1,0.6L0.6,1L0,0.4L-0.6,1L-1,0.6L-0.4,0Z","diamond","square"]}}}}
 ]},
{"width":1,"height":1,"view":{"stroke":"transparent"},"data":{"name":"d"},"transform":[{"filter":"datum.d==='a' && datum.x==1e-6"}],
 "mark":{"type":"point","filled":true,"opacity":0,"size":1,"clip":true},
 "encoding":{
  "fill":{"field":"s","type":"nominal",
   "scale":{"domain":["10","100","1000"],"range":["#9467bd","#1f77b4","#8c564b"]},
   "legend":{"orient":"none","legendX":113,"legendY":19,"direction":"horizontal","title":null,"labelExpr":"datum.label + ' Patterns'","symbolSize":1296,"symbolOpacity":0.8,"symbolStrokeWidth":0,"labelOffset":11,"columnPadding":30,"labelFontSize":15.5,"labelFont":"DejaVu Sans","labelColor":"black","padding":0}},
  "shape":{"field":"s","type":"nominal",
   "scale":{"domain":["10","100","1000"],"range":["M-1,-0.19H1V0.19H-1ZM-0.42,-0.25L-0.25,-0.42L0,-0.17L0.25,-0.42L0.42,-0.25L0.17,0L0.42,0.25L0.25,0.42L0,0.17L-0.25,0.42L-0.42,0.25L-0.17,0Z","M-1,-0.19H1V0.19H-1ZM0,-0.45L0.45,0L0,0.45L-0.45,0Z","M-1,-0.19H1V0.19H-1ZM-0.4,-0.4H0.4V0.4H-0.4Z"]},
   "legend":{"orient":"none","legendX":113,"legendY":19,"direction":"horizontal","title":null,"labelExpr":"datum.label + ' Patterns'","symbolSize":1296,"symbolOpacity":0.8,"symbolStrokeWidth":0,"labelOffset":11,"columnPadding":30,"labelFontSize":15.5,"labelFont":"DejaVu Sans","labelColor":"black","padding":0}}}}
]
}
